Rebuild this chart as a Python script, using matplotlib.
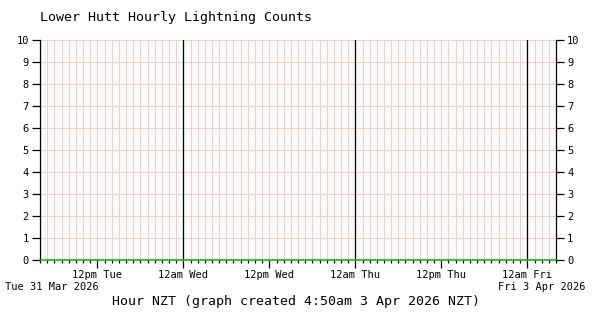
import matplotlib
matplotlib.use('Agg')
import matplotlib.pyplot as plt
from matplotlib.ticker import FixedLocator, MultipleLocator

# hours since 4am Tue 31 Mar 2026 NZT
hours = list(range(0, 73))
counts = [0, 0, 0, 0, 0, 0, 0, 0, 0, 0, 0, 0, 0, 0, 0, 0, 0, 0, 0, 0,
          0, 0, 0, 0, 0, 0, 0, 0, 0, 0, 0, 0, 0, 0, 0, 0, 0, 0, 0, 0,
          0, 0, 0, 0, 0, 0, 0, 0, 0, 0, 0, 0, 0, 0, 0, 0, 0, 0, 0, 0,
          0, 0, 0, 0, 0, 0, 0, 0, 0, 0, 0, 0, 0]

tick_hours = [8, 20, 32, 44, 56, 68]
tick_labels = ['12pm Tue', '12am Wed', '12pm Wed', '12am Thu', '12pm Thu', '12am Fri']
midnights = [20, 44, 68]

title = 'Lower Hutt Hourly Lightning Counts'
xlabel = 'Hour NZT (graph created 4:50am 3 Apr 2026 NZT)'
start_label = 'Tue 31 Mar 2026'
end_label = 'Fri 3 Apr 2026'

mono = 'DejaVu Sans Mono'
grid_col = '#e9d2c6'

fig = plt.figure(figsize=(6, 3.2), dpi=100)
ax = fig.add_axes([40 / 600, 60 / 320, 516 / 600, 220 / 320])
ax.set_facecolor('#f9f9f9')

ax.set_xlim(0, 72)
ax.set_ylim(0, 10)

# hourly and unit grid
for h in hours:
    ax.axvline(h, color=grid_col, lw=0.75, zorder=1)
for v in range(0, 11):
    ax.axhline(v, color=grid_col, lw=0.75, zorder=1)
for m in midnights:
    ax.axvline(m, color='black', lw=0.9, zorder=2)

ax.step(hours, counts, where='post', color='#00b400', lw=1.1, zorder=4, clip_on=False)

ax.spines['top'].set_visible(False)
ax.spines['bottom'].set_visible(False)
ax.spines['left'].set_linewidth(0.9)
ax.spines['right'].set_linewidth(0.9)

ax.yaxis.set_major_locator(MultipleLocator(1))
ax.tick_params(axis='y', which='both', left=True, right=True, labelleft=True, labelright=True,
               length=6, width=0.9, direction='out', labelsize=7.5, pad=2)
for lab in ax.get_yticklabels():
    lab.set_family(mono)

ax.xaxis.set_major_locator(FixedLocator(tick_hours))
ax.xaxis.set_minor_locator(FixedLocator(hours))
ax.set_xticklabels(tick_labels, family=mono, fontsize=7.5)
ax.tick_params(axis='x', which='major', length=6, width=0.9, direction='out', pad=1)
ax.tick_params(axis='x', which='minor', length=2.5, width=0.9, direction='out')

fig.text(40 / 600, 1 - 18 / 320, title, family=mono, fontsize=9.6, va='center', ha='left')
fig.text(5 / 600, 1 - 287 / 320, start_label, family=mono, fontsize=7.5, va='center', ha='left')
fig.text(586 / 600, 1 - 287 / 320, end_label, family=mono, fontsize=7.5, va='center', ha='right')
fig.text(296 / 600, 1 - 302 / 320, xlabel, family=mono, fontsize=9.5, va='center', ha='center')

fig.savefig('out.png', dpi=100, facecolor='white')
